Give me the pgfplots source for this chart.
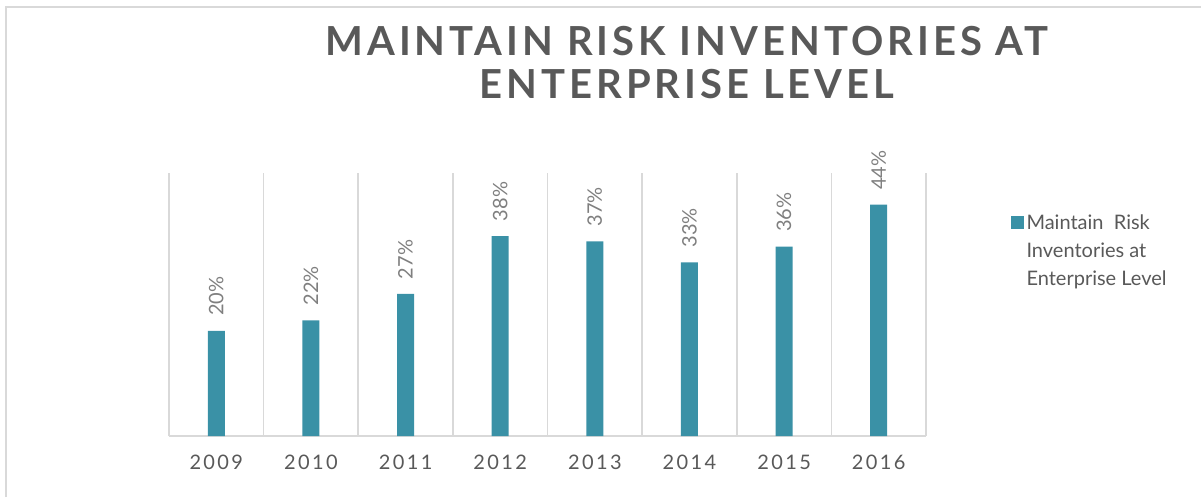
\documentclass[border=0pt]{standalone}
\usepackage{pgfplots}
\pgfplotsset{compat=1.18}
\usepackage{fontspec}
\setmainfont{Lato}
\newfontfamily\titlefont[LetterSpace=10]{Lato}
\newfontfamily\tickfont[LetterSpace=12]{Lato}
\definecolor{bar}{RGB}{58,145,166}
\definecolor{txt}{HTML}{595959}
\definecolor{lbl}{HTML}{7F7F7F}
\definecolor{grd}{HTML}{D9D9D9}
\begin{document}
\begin{tikzpicture}[x=0.75pt,y=0.75pt]
\useasboundingbox (0,0) rectangle (1201,497);
\draw[grd, line width=1.5pt] (5.5,0) -- (5.5,489.5) -- (1201,489.5);
\node[font=\titlefont\bfseries\fontsize{30}{32.25}\selectfont, text=txt, align=center, anchor=base] at (687,398) {MAINTAIN RISK INVENTORIES AT\\ENTERPRISE LEVEL};
\begin{axis}[
  at={(126.75pt,45.75pt)}, anchor=south west,
  scale only axis, width=567.75pt, height=197.25pt,
  xmin=-0.5, xmax=7.5, ymin=0, ymax=50,
  ybar, bar width=12.75pt,
  axis y line=none, axis x line*=bottom,
  x axis line style={draw=grd, line width=1.3pt},
  xtick={0,...,7},
  xticklabels={2009,2010,2011,2012,2013,2014,2015,2016},
  minor xtick={-0.5,0.5,...,7.5},
  xminorgrids=true,
  minor grid style={draw=grd, line width=1.3pt},
  major tick length=0pt, minor tick length=0pt,
  xticklabel style={font=\tickfont\fontsize{15}{18}\selectfont, text=txt, inner sep=0pt, anchor=north, yshift=-14pt},
  /pgf/number format/assume math mode=true,
  nodes near coords={\pgfmathprintnumber{\pgfplotspointmeta}\%},
  every node near coord/.append style={rotate=90, anchor=west, font=\fontsize{15}{18}\selectfont, text=lbl, inner xsep=11pt, inner ysep=0pt},
  legend style={at={(1.1117,0.852)}, anchor=north west, draw=none, fill=none, inner sep=0pt,
    font=\fontsize{15}{21}\selectfont, text=txt, nodes={align=left}},
  legend cell align=left,
  legend image code/.code={\fill[#1, draw=none] (-8pt,16.4pt) rectangle (1.75pt,26.1pt);},
]
\addplot[fill=bar, draw=none] coordinates {(0,20) (1,22) (2,27) (3,38) (4,37) (5,33) (6,36) (7,44)};
\addlegendentry{Maintain\ \ Risk\\Inventories at\\Enterprise Level}
\end{axis}
\end{tikzpicture}
\end{document}
